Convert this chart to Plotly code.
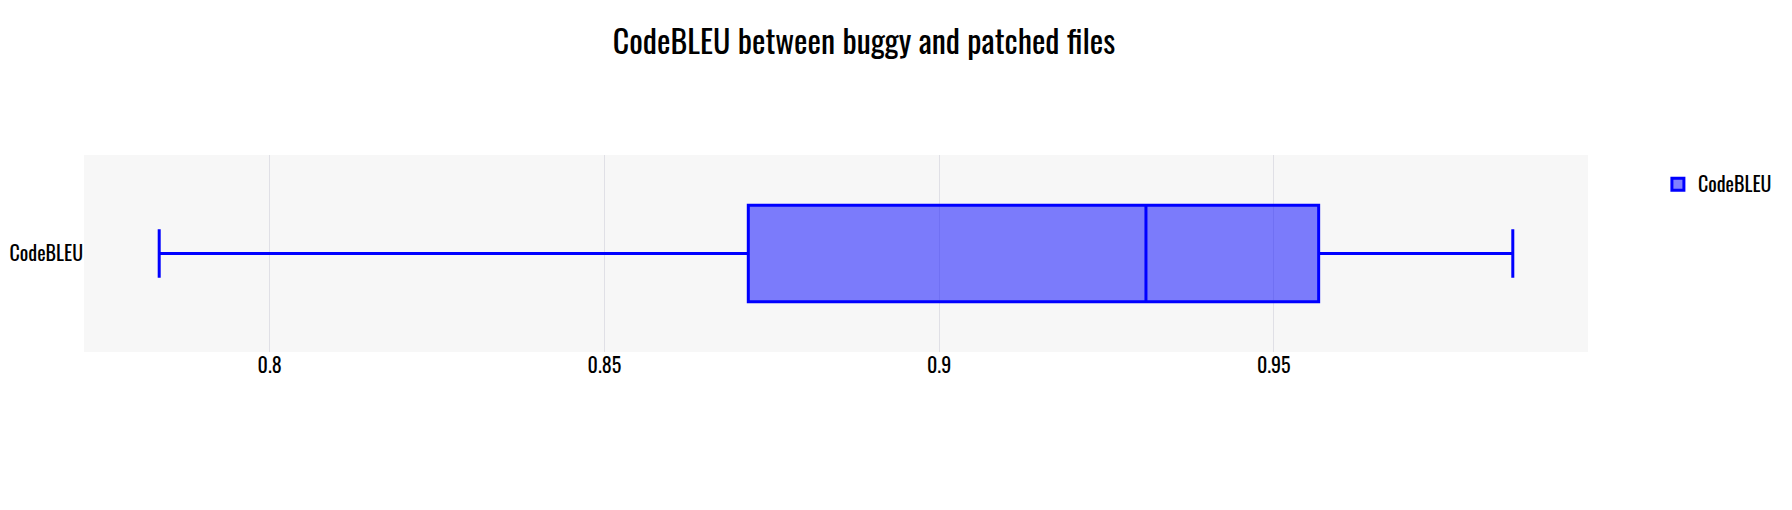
import plotly.graph_objects as go

categories = ["CodeBLEU"]
q1 = [0.8715]
median = [0.9309]
q3 = [0.9567]
lowerfence = [0.7835]
upperfence = [0.9857]

FONT = "Oswald, 'Liberation Sans Narrow', 'DejaVu Sans Condensed', sans-serif"

fig = go.Figure()
fig.add_trace(go.Box(
    y=categories,
    q1=q1, median=median, q3=q3,
    lowerfence=lowerfence, upperfence=upperfence,
    orientation="h",
    name="CodeBLEU",
    line=dict(color="#0000ff", width=3),
    fillcolor="rgba(0,0,255,0.5)",
    whiskerwidth=0.5,
    showlegend=True,
))

fig.update_layout(
    width=1776, height=494,
    margin=dict(l=76, r=196, t=147, b=150, autoexpand=False),
    paper_bgcolor="white",
    plot_bgcolor="#f7f7f7",
    font=dict(family=FONT, size=20, color="black"),
    title=dict(text="CodeBLEU between buggy and patched files",
               font=dict(family=FONT, size=32, color="black"),
               x=0.482, xanchor="center", xref="container",
               y=0.929, yanchor="middle"),
    boxgap=0.3,
    boxgroupgap=0.3,
    showlegend=True,
    legend=dict(x=0.929, xref="container", y=0.95, xanchor="left", yanchor="top",
                font=dict(family=FONT, size=20, color="black")),
    xaxis=dict(showgrid=True, gridcolor="#e0e0e6", gridwidth=1,
               zeroline=False, showline=False, tickfont=dict(size=20),
               automargin=False),
    yaxis=dict(showgrid=False, zeroline=False, showline=False,
               tickfont=dict(size=20), automargin=False),
)

fig.write_html("out.html")
